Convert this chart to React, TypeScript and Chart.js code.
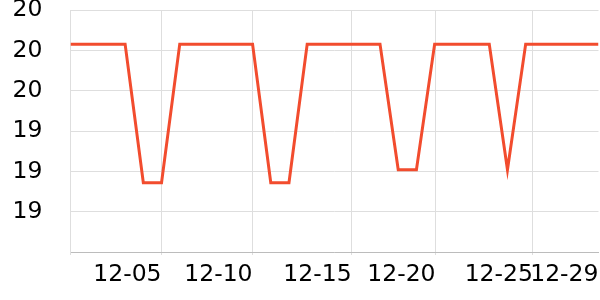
import React, { useEffect, useRef } from 'react';
import { Chart, registerables } from 'chart.js';

Chart.register(...registerables);

// 30 daily readings, 11-30 .. 12-29
const dayLabels = [
  '11-30', '12-01', '12-02', '12-03', '12-04', '12-05', '12-06', '12-07', '12-08', '12-09',
  '12-10', '12-11', '12-12', '12-13', '12-14', '12-15', '12-16', '12-17', '12-18', '12-19',
  '12-20', '12-21', '12-22', '12-23', '12-24', '12-25', '12-26', '12-27', '12-28', '12-29',
];
const values = [
  20.116, 20.116, 20.116, 20.116, 19.772, 19.772, 20.116, 20.116, 20.116, 20.116,
  20.116, 19.772, 19.772, 20.116, 20.116, 20.116, 20.116, 20.116, 19.804, 19.804,
  20.116, 20.116, 20.116, 20.116, 19.804, 20.116, 20.116, 20.116, 20.116, 20.116,
];

const xTickPositions = [0, 5, 10, 15.44, 20.05, 25.4, 29];
const xTickLabels = ['', '12-05', '12-10', '12-15', '12-20', '12-25', '12-29'];

const yMin = 19.6;
const yMax = 20.2;
const yStep = 0.1;
const yTickLabels = ['', '19', '19', '19', '20', '20', '20'];

export default function App() {
  const ref = useRef<HTMLCanvasElement | null>(null);

  useEffect(() => {
    if (!ref.current) return;
    const chart = new Chart(ref.current, {
      type: 'line',
      data: {
        labels: dayLabels,
        datasets: [
          {
            data: values.map((v, i) => ({ x: i, y: v })),
            borderColor: '#f24c2e',
            borderWidth: 3,
            pointRadius: 0,
            tension: 0,
            fill: false,
          },
        ],
      },
      options: {
        animation: false,
        responsive: false,
        layout: { padding: { top: 10.3, right: 1.5, left: 0, bottom: 0 } },
        plugins: { legend: { display: false }, tooltip: { enabled: false } },
        scales: {
          x: {
            type: 'linear',
            min: 0,
            max: dayLabels.length - 1,
            afterBuildTicks: (s: any) => {
              s.ticks = xTickPositions.map((v) => ({ value: v }));
            },
            afterFit: (s: any) => {
              s.height = 48;
              s.paddingLeft = 0;
              s.paddingRight = 0;
            },
            grid: {
              color: (ctx: any) =>
                ctx.tick && ctx.tick.value === dayLabels.length - 1 ? 'rgba(0,0,0,0)' : '#dedede',
              tickLength: 3,
            },
            border: { color: '#bcbcbc' },
            ticks: {
              autoSkip: false,
              maxRotation: 0,
              minRotation: 0,
              align: 'end',
              padding: 6,
              color: '#000',
              font: { family: 'DejaVu Sans', size: 23.5 },
              callback: (_v: any, i: number) => xTickLabels[i],
            },
          },
          y: {
            min: yMin,
            max: yMax,
            afterFit: (s: any) => {
              s.width = 70.5;
              s.paddingTop = 0;
              s.paddingBottom = 0;
            },
            grid: { color: '#dedede', drawTicks: false },
            border: { color: '#dedede' },
            ticks: {
              stepSize: yStep,
              padding: 28,
              color: '#000',
              font: { family: 'DejaVu Sans', size: 23.5 },
              callback: (_v: any, i: number) => yTickLabels[i],
            },
          },
        },
      },
    });
    return () => chart.destroy();
  }, []);

  return (
    <canvas
      ref={ref}
      width={600}
      height={300}
      style={{ position: 'fixed', left: 0, top: 0, display: 'block', width: 600, height: 300 }}
    />
  );
}
